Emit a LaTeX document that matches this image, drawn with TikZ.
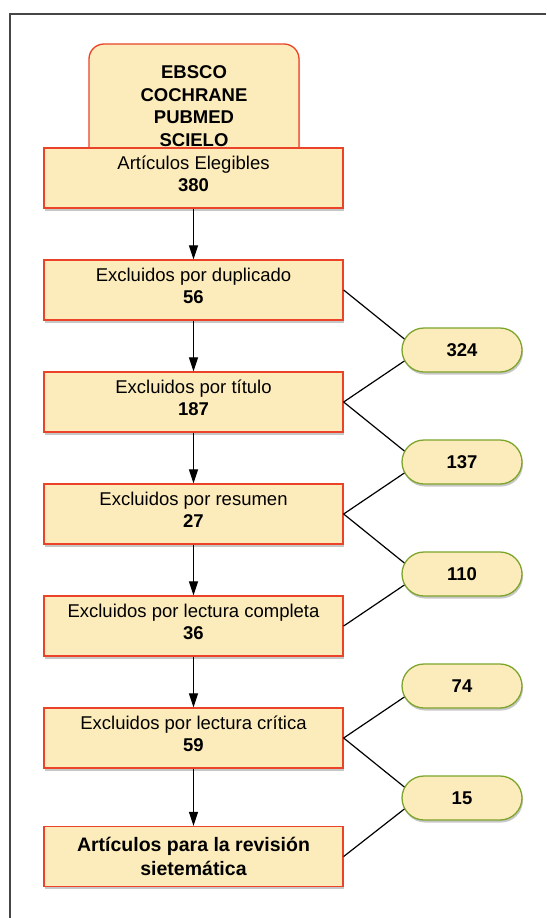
\documentclass[tikz,border=0pt]{standalone}
\usepackage{fontspec}
\setmainfont{Liberation Sans}
\usetikzlibrary{shadows,arrows.meta,calc,shapes.misc}
\definecolor{boxfill}{RGB}{253,236,187}
\definecolor{boxred}{RGB}{234,67,40}
\definecolor{pillgreen}{RGB}{125,165,45}
\definecolor{framegray}{RGB}{70,70,70}
\begin{document}
\begin{tikzpicture}[x=1pt,y=-1pt,
  shad/.style={drop shadow={shadow xshift=1pt, shadow yshift=-2.5pt, fill=black, opacity=0.22}},
  stepbox/.style={draw=boxred, fill=boxfill, line width=1.3pt, minimum width=299pt,
    minimum height=60pt, inner sep=0pt, align=center,
    font=\fontsize{18.5}{22}\selectfont, text depth=8pt, shad},
  finalbox/.style={stepbox, text depth=0pt, font=\fontsize{19.5}{24.4}\selectfont\bfseries},
  srcbox/.style={draw=boxred, fill=boxfill, line width=1.3pt, rounded corners=15pt,
    minimum width=210pt, minimum height=124pt, inner sep=0pt, align=center,
    font=\fontsize{18.5}{22.6}\selectfont\bfseries, shad},
  pill/.style={rounded rectangle, draw=pillgreen, fill=boxfill, line width=1.3pt,
    minimum width=120pt, minimum height=44pt, inner sep=0pt,
    font=\fontsize{18.5}{22}\selectfont\bfseries, shad},
  arr/.style={line width=1.2pt, -{Triangle[width=9pt,length=14pt]}},
  ln/.style={line width=1.2pt}
]
\useasboundingbox (0,0) rectangle (546,918);
\draw[framegray, line width=1.5pt] (10,918) -- (10,14) -- (546,14);

\node[srcbox] (src) at (194,106) {EBSCO\\COCHRANE\\PUBMED\\SCIELO};
\node[stepbox] (b1) at (193.5,178) {Artículos Elegibles\\\textbf{380}};
\node[stepbox] (b2) at (193.5,290) {Excluidos por duplicado\\\textbf{56}};
\node[stepbox] (b3) at (193.5,402) {Excluidos por título\\\textbf{187}};
\node[stepbox] (b4) at (193.5,514) {Excluidos por resumen\\\textbf{27}};
\node[stepbox] (b5) at (193.5,626) {Excluidos por lectura completa\\\textbf{36}};
\node[stepbox] (b6) at (193.5,738) {Excluidos por lectura crítica\\\textbf{59}};
\node[finalbox] (b7) at (193.5,856.5) {Artículos para la revisión\\sietemática};

\node[pill] (p1) at (462,350) {324};
\node[pill] (p2) at (462,462) {137};
\node[pill] (p3) at (462,574) {110};
\node[pill] (p4) at (462,686) {74};
\node[pill] (p5) at (462,798) {15};

\draw[arr] (b1.south) -- (b2.north);
\draw[arr] (b2.south) -- (b3.north);
\draw[arr] (b3.south) -- (b4.north);
\draw[arr] (b4.south) -- (b5.north);
\draw[arr] (b5.south) -- (b6.north);
\draw[arr] (b6.south) -- (b7.north);

\draw[ln] (b2.east) -- ($(p1.west)+(3,-11)$);
\draw[ln] (b3.east) -- ($(p1.west)+(3,11)$);
\draw[ln] (b3.east) -- ($(p2.west)+(3,-11)$);
\draw[ln] (b4.east) -- ($(p2.west)+(3,11)$);
\draw[ln] (b4.east) -- ($(p3.west)+(3,-11)$);
\draw[ln] (b5.east) -- ($(p3.west)+(3,11)$);
\draw[ln] (b6.east) -- ($(p4.west)+(3,11)$);
\draw[ln] (b6.east) -- ($(p5.west)+(3,-11)$);
\draw[ln] (b7.east) -- ($(p5.west)+(3,11)$);
\end{tikzpicture}
\end{document}
